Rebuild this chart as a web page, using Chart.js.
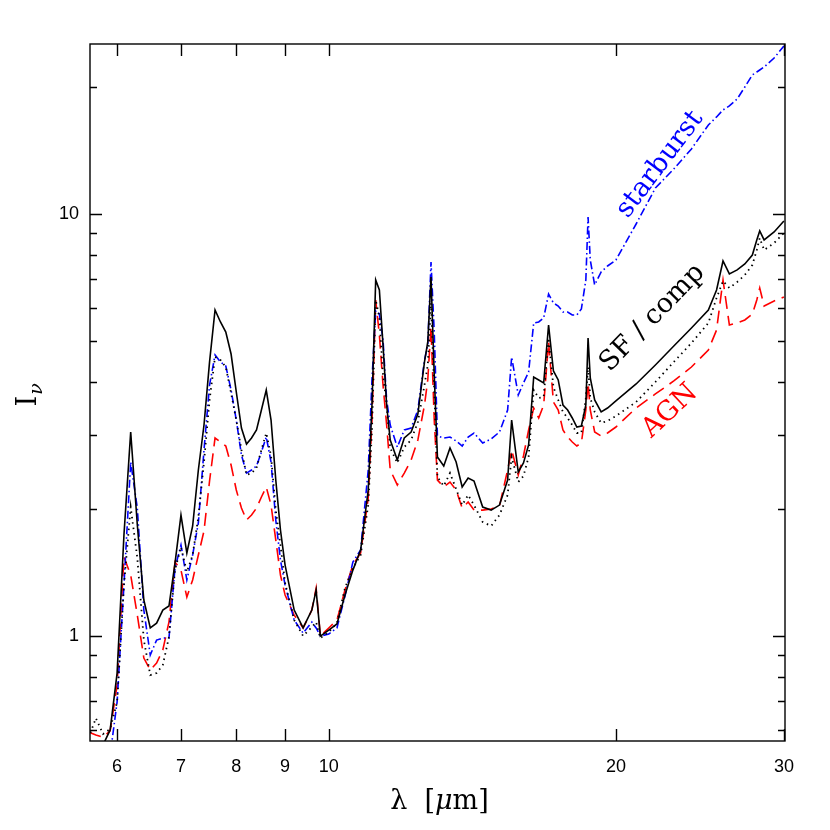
<!DOCTYPE html>
<html>
<head>
<meta charset="utf-8">
<script src="https://cdn.jsdelivr.net/npm/chart.js@4"></script>
<style>
  html, body { margin: 0; padding: 0; background: #fff; }
  canvas { display: block; }
</style>
</head>
<body>
<canvas id="myChart" width="830" height="830"></canvas>
<script>
// wavelength in micron
let wavelength = [5.6, 5.7, 5.8, 5.9, 6.0, 6.1, 6.2, 6.3, 6.4, 6.5, 6.6, 6.7, 6.8, 6.9, 7.0,
    7.1, 7.2, 7.3, 7.4, 7.5, 7.6, 7.7, 7.8, 7.9, 8.0, 8.1, 8.2, 8.3, 8.4, 8.5, 8.6, 8.7, 8.8, 8.9, 9.0,
    9.2, 9.4, 9.6, 9.7, 9.8, 10.0, 10.2, 10.4, 10.6, 10.8,
    11.0, 11.1, 11.2, 11.3, 11.4, 11.5, 11.6, 11.8, 12.0, 12.2, 12.4,
    12.6, 12.7, 12.8, 12.9, 13.0, 13.2, 13.4, 13.6, 13.8, 14.0, 14.2,
    14.5, 14.8, 15.1, 15.4, 15.55, 15.8,
    16.0, 16.2, 16.4, 16.6, 16.8, 17.0, 17.2, 17.4, 17.6, 17.8, 18.0, 18.2, 18.4,
    18.6, 18.7, 18.8, 19.0, 19.3, 19.6, 20, 21, 22, 23, 24, 25,
    25.5, 25.9, 26.3, 26.8, 27.3, 27.8, 28.1, 28.3, 28.6, 29.3, 30];

let sfComp = [0.50, 0.531, 0.552, 0.599, 0.817, 1.735, 3.044, 1.832, 1.217, 1.045, 1.073, 1.152, 1.178, 1.489, 1.935,
    1.573, 1.823, 2.474, 3.162, 4.461, 5.923, 5.548, 5.252, 4.658, 3.786, 3.111, 2.851, 2.946, 3.077, 3.432, 3.827, 3.249, 2.342, 1.783, 1.473,
    1.152, 1.045, 1.152, 1.285, 1.000, 1.033, 1.068, 1.251, 1.433, 1.599,
    2.218, 3.527, 6.977, 6.605, 4.893, 3.527, 2.914, 2.612, 2.946, 3.044, 3.358,
    4.461, 4.974, 7.092, 4.154, 2.656, 2.528, 2.789, 2.584, 2.255, 2.368, 2.330,
    2.021, 1.988, 2.043, 2.342, 3.249, 2.447,
    2.570, 2.836, 4.109, 4.043, 3.977, 5.458, 4.246, 4.043, 3.527, 3.432, 3.286, 3.128, 3.145,
    3.527, 5.084, 4.087, 3.625, 3.395, 3.470, 3.606, 3.956, 4.388, 4.866, 5.370, 5.923,
    6.605, 7.737, 7.209, 7.369, 7.613, 7.994, 8.679, 9.114, 8.679, 9.065, 9.625];

let allSources = [0.573, 0.639, 0.586, 0.602, 0.698, 1.321, 2.021, 1.530, 0.978, 0.808, 0.817, 0.854, 0.995, 1.433, 1.625,
    1.418, 1.556, 1.914, 2.584, 3.625, 4.582, 4.508, 4.339, 3.765, 3.249, 2.759, 2.407, 2.433, 2.501, 2.759, 3.027, 2.671, 1.988, 1.643, 1.335,
    1.091, 1.000, 1.050, 1.079, 0.989, 1.022, 1.073, 1.299, 1.449, 1.556,
    2.043, 3.077, 6.255, 5.701, 4.154, 3.527, 2.789, 2.570, 2.804, 2.914, 3.215,
    3.934, 4.388, 6.153, 3.827, 2.381, 2.267, 2.433, 2.230, 2.043, 2.159, 2.043,
    1.863, 1.823, 1.935, 2.159, 2.656, 2.317,
    2.394, 2.656, 3.827, 3.664, 3.684, 5.084, 3.890, 3.625, 3.395, 3.286, 3.162, 3.027, 3.027,
    3.664, 4.339, 3.664, 3.395, 3.197, 3.233, 3.322, 3.585, 3.999, 4.461, 4.947, 5.517,
    6.324, 6.939, 6.677, 6.900, 7.170, 7.571, 8.216, 8.772, 8.216, 8.536, 9.016];

let starburst = [0.481, 0.495, 0.508, 0.522, 0.698, 1.321, 2.584, 2.010, 1.152, 0.902, 0.978, 0.989, 0.989, 1.449, 1.643,
    1.358, 1.556, 1.853, 2.759, 3.934, 4.633, 4.461, 4.364, 3.827, 3.249, 2.685, 2.433, 2.474, 2.528, 2.729, 2.962, 2.584, 1.883, 1.514, 1.321,
    1.091, 1.016, 1.079, 1.045, 1.000, 1.011, 1.045, 1.244, 1.497, 1.599,
    2.474, 4.043, 5.90, 5.80, 5.029, 3.625, 3.162, 2.804, 3.077, 3.111, 3.432,
    4.508, 4.893, 7.696, 5.252, 2.978, 2.946, 2.962, 2.898, 2.820, 2.962, 3.027,
    2.867, 2.930, 3.044, 3.432, 4.582, 3.725,
    3.977, 4.222, 5.517, 5.548, 5.670, 6.462, 6.153, 6.053, 5.858, 5.858, 5.763, 5.763, 5.955,
    6.977, 9.837, 7.780, 6.789, 7.289, 7.530, 7.780, 9.469, 11.52, 12.79, 14.26, 16.25,
    16.98, 17.64, 18.03, 18.73, 19.99, 21.35, 21.70, 21.94, 22.30, 23.42, 25.01];

let agn = [0.592, 0.583, 0.576, 0.596, 0.765, 1.539, 1.395, 1.121, 0.887, 0.831, 0.863, 0.927, 1.079, 1.497, 1.433,
    1.237, 1.358, 1.556, 1.774, 2.330, 2.946, 2.882, 2.820, 2.542, 2.218, 2.010, 1.883, 1.935, 2.010, 2.135, 2.255, 2.043, 1.689, 1.395, 1.251,
    1.121, 1.045, 1.152, 1.299, 1.000, 1.045, 1.091, 1.285, 1.473, 1.573,
    2.123, 3.249, 6.255, 5.168, 3.934, 3.162, 2.474, 2.280, 2.433, 2.612, 2.914,
    3.527, 4.043, 5.399, 3.249, 2.342, 2.255, 2.317, 2.218, 2.010, 2.077, 1.988,
    1.988, 2.000, 2.032, 2.474, 2.759, 2.407,
    2.671, 3.077, 3.470, 3.286, 3.527, 4.974, 3.585, 3.432, 3.077, 2.962, 2.882, 2.820, 2.867,
    3.432, 3.977, 3.432, 3.044, 2.978, 3.027, 3.128, 3.470, 3.746, 4.021, 4.339, 4.761,
    5.311, 6.977, 5.458, 5.517, 5.609, 5.794, 6.255, 6.677, 6.053, 6.220, 6.359];

let xTicks = [6, 7, 8, 9, 10, 20, 30];
let yTicks = [0.6, 0.7, 0.8, 0.9, 1, 2, 3, 4, 5, 6, 7, 8, 9, 10, 20];
let yLabelled = [1, 10];

// curve labels: text, colour, position (wavelength, intensity), angle in degrees
let curveLabels = [
    { text: 'starburst', color: '#0000ff', at: [22.25, 13.1], angle: -53 },
    { text: 'SF / comp', color: '#000000', at: [21.85, 5.67], angle: -46 },
    { text: 'AGN', color: '#ff0000', at: [22.8, 3.41], angle: -43 }
];

const serif = '"DejaVu Serif", "Liberation Serif", serif';
const sans = '"Liberation Sans", Arial, sans-serif';

function points(values) {
    return wavelength.map((w, i) => ({ x: w, y: values[i] }));
}

const decorations = {
    id: 'decorations',
    afterDatasetsDraw(chart) {
        const { ctx, scales: { x, y } } = chart;
        ctx.save();
        ctx.font = '27px ' + serif;
        ctx.textAlign = 'center';
        ctx.textBaseline = 'middle';
        curveLabels.forEach(l => {
            ctx.save();
            ctx.translate(x.getPixelForValue(l.at[0]), y.getPixelForValue(l.at[1]));
            ctx.rotate(l.angle * Math.PI / 180);
            ctx.fillStyle = l.color;
            ctx.fillText(l.text, 0, 0);
            ctx.restore();
        });
        ctx.restore();
    },
    afterDraw(chart) {
        const { ctx, chartArea: a, scales: { x, y } } = chart;
        ctx.save();
        ctx.strokeStyle = '#000';
        ctx.lineWidth = 1.4;
        ctx.strokeRect(a.left, a.top, a.right - a.left, a.bottom - a.top);

        // inward tick marks on all four sides
        ctx.beginPath();
        xTicks.forEach(v => {
            const px = Math.round(x.getPixelForValue(v)) + 0.5;
            ctx.moveTo(px, a.bottom); ctx.lineTo(px, a.bottom - 12);
            ctx.moveTo(px, a.top); ctx.lineTo(px, a.top + 12);
        });
        yTicks.forEach(v => {
            const py = Math.round(y.getPixelForValue(v)) + 0.5;
            const len = yLabelled.includes(v) ? 12 : 7;
            ctx.moveTo(a.left, py); ctx.lineTo(a.left + len, py);
            ctx.moveTo(a.right, py); ctx.lineTo(a.right - len, py);
        });
        ctx.stroke();

        // x title: lambda [mu m]
        ctx.fillStyle = '#000';
        ctx.textBaseline = 'alphabetic';
        ctx.textAlign = 'left';
        const parts = [['λ  [', ''], ['μ', 'italic '], ['m]', '']];
        let total = 0;
        parts.forEach(p => { ctx.font = p[1] + '27px ' + serif; total += ctx.measureText(p[0]).width; });
        let cx = (a.left + a.right) / 2 - total / 2 + 2;
        const by = a.bottom + 68;
        parts.forEach(p => {
            ctx.font = p[1] + '27px ' + serif;
            ctx.fillText(p[0], cx, by);
            cx += ctx.measureText(p[0]).width;
        });

        // y title: I_nu
        ctx.save();
        ctx.translate(36, (a.top + a.bottom) / 2 + 14);
        ctx.rotate(-Math.PI / 2);
        ctx.font = '27px ' + serif;
        ctx.fillText('I', 0, 0);
        const iw = ctx.measureText('I').width;
        ctx.font = 'italic 19px ' + serif;
        ctx.fillText('ν', iw + 1, 6);
        ctx.restore();
        ctx.restore();
    }
};

let ctx = document.getElementById('myChart');

let myChart = new Chart(ctx, {
    type: 'line',
    data: {
        datasets: [{
            label: 'SF/comp',
            data: points(sfComp),
            borderColor: '#000000',
            borderWidth: 1.6
        }, {
            label: 'all',
            data: points(allSources),
            borderColor: '#000000',
            borderWidth: 1.8,
            borderDash: [1.5, 4]
        }, {
            label: 'starburst',
            data: points(starburst),
            borderColor: '#0000ff',
            borderWidth: 1.6,
            borderDash: [8, 3, 1.5, 3]
        }, {
            label: 'AGN',
            data: points(agn),
            borderColor: '#ff0000',
            borderWidth: 1.6,
            borderDash: [13, 7]
        }]
    },
    options: {
        responsive: false,
        animation: false,
        devicePixelRatio: 1,
        layout: {
            padding: { left: 0, right: 45, top: 44, bottom: 0 }
        },
        elements: {
            point: { radius: 0 },
            line: { tension: 0, fill: false }
        },
        plugins: {
            legend: { display: false },
            tooltip: { enabled: false }
        },
        scales: {
            x: {
                type: 'logarithmic',
                min: 5.62,
                max: 30.08,
                grid: { display: false, drawTicks: false },
                border: { display: false },
                afterBuildTicks: (scale) => {
                    scale.ticks = xTicks.map(v => ({ value: v }));
                },
                afterFit: (scale) => {
                    scale.height = 89;
                },
                ticks: {
                    autoSkip: false,
                    maxRotation: 0,
                    padding: 15,
                    color: '#000',
                    font: { family: sans, size: 18 },
                    callback: (value) => String(value)
                }
            },
            y: {
                type: 'logarithmic',
                min: 0.564,
                max: 25.28,
                grid: { display: false, drawTicks: false },
                border: { display: false },
                afterBuildTicks: (scale) => {
                    scale.ticks = yTicks.map(v => ({ value: v }));
                },
                afterFit: (scale) => {
                    scale.width = 90;
                },
                ticks: {
                    autoSkip: false,
                    padding: 11,
                    color: '#000',
                    font: { family: sans, size: 18 },
                    callback: (value) => yLabelled.includes(value) ? String(value) : ''
                }
            }
        }
    },
    plugins: [decorations]
});
</script>
</body>
</html>
